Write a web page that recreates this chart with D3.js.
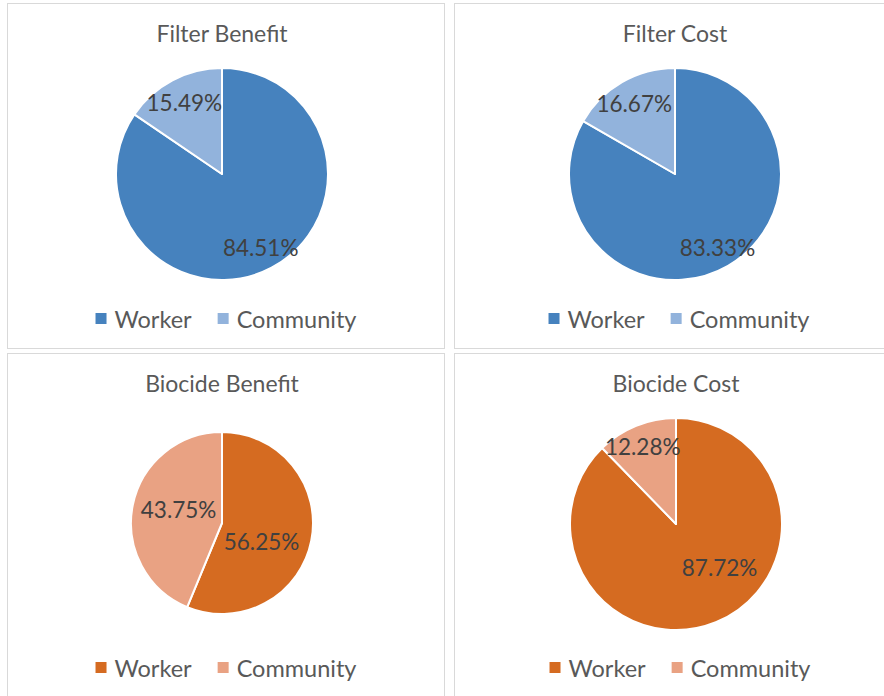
<!DOCTYPE html>
<html>
<head>
<meta charset="utf-8">
<script src="https://cdn.jsdelivr.net/npm/d3@7"></script>
<style>
  body { margin: 0; background: #fff; }
  svg { display: block; }
</style>
</head>
<body>
<div id="chart"></div>
<script>
// chart data
var titles = ["Filter Benefit", "Filter Cost", "Biocide Benefit", "Biocide Cost"];
var categories = ["Worker", "Community"];
var workerShare = [84.51, 83.33, 56.25, 87.72];
var communityShare = [15.49, 16.67, 43.75, 12.28];

// colours: blue for the filter panels, orange for the biocide panels
var blues = ["#4682be", "#92b3dc"];
var oranges = ["#d56b21", "#e9a283"];

var svgWidth = 884;
var svgHeight = 696;
var font = "Lato, 'Open Sans', sans-serif";

// panel boxes and where the pie sits inside each one
var panels = [
    { x: 7, y: 3, w: 437, h: 345, cx: 215, cy: 171, r: 106, colors: blues, legendY: 316,
      labelPos: [[0.78, 0], [0.76, 0]] },
    { x: 454, y: 3, w: 437, h: 345, cx: 221, cy: 171, r: 106, colors: blues, legendY: 316,
      labelPos: [[0.8, 0], [0.77, 0]] },
    { x: 7, y: 353, w: 437, h: 345, cx: 215, cy: 170, r: 91, colors: oranges, legendY: 315,
      labelPos: [[0.48, 14], [0.5, 6]] },
    { x: 454, y: 353, w: 437, h: 345, cx: 222, cy: 171, r: 106, colors: oranges, legendY: 315,
      labelPos: [[0.58, -23], [0.8, -1]] }
];

var svg = d3.select("#chart")
    .append("svg")
    .attr("width", svgWidth)
    .attr("height", svgHeight);

var pie = d3.pie()
    .sort(null)
    .value(function (d) { return d.value; });

panels.forEach(function (p, i) {
    var g = svg.append("g")
        .attr("transform", `translate(${p.x}, ${p.y})`);

    // panel frame
    g.append("rect")
        .attr("x", 0.5)
        .attr("y", 0.5)
        .attr("width", p.w)
        .attr("height", p.h)
        .attr("fill", "#fff")
        .attr("stroke", "#d9d9d9")
        .attr("stroke-width", 1);

    // title
    g.append("text")
        .attr("x", p.cx)
        .attr("y", 30)
        .attr("text-anchor", "middle")
        .attr("dominant-baseline", "central")
        .attr("font-family", font)
        .attr("font-size", "23px")
        .attr("fill", "#595959")
        .text(titles[i]);

    var data = [
        { name: categories[0], value: workerShare[i] },
        { name: categories[1], value: communityShare[i] }
    ];

    var arc = d3.arc()
        .innerRadius(0)
        .outerRadius(p.r);

    var pieGroup = g.append("g")
        .attr("transform", `translate(${p.cx}, ${p.cy})`);

    var arcs = pie(data);

    pieGroup.selectAll("path")
        .data(arcs)
        .enter()
        .append("path")
        .attr("d", arc)
        .attr("fill", function (d, j) { return p.colors[j]; })
        .attr("stroke", "#fff")
        .attr("stroke-width", 2)
        .attr("stroke-linejoin", "round");

    // percentage labels
    pieGroup.selectAll("text")
        .data(arcs)
        .enter()
        .append("text")
        .attr("transform", function (d, j) {
            var a = (d.startAngle + d.endAngle) / 2 + p.labelPos[j][1] * Math.PI / 180;
            var rr = p.r * p.labelPos[j][0];
            return `translate(${Math.sin(a) * rr}, ${-Math.cos(a) * rr})`;
        })
        .attr("text-anchor", "middle")
        .attr("dominant-baseline", "central")
        .attr("font-family", font)
        .attr("font-size", "22.5px")
        .attr("fill", "#404040")
        .text(function (d) { return d.data.value.toFixed(2) + "%"; });

    // legend
    var legend = g.append("g");
    var xPos = 0;
    categories.forEach(function (c, j) {
        var item = legend.append("g")
            .attr("transform", `translate(${xPos}, 0)`);
        item.append("rect")
            .attr("x", 0)
            .attr("y", -6)
            .attr("width", 11)
            .attr("height", 11)
            .attr("fill", p.colors[j]);
        var t = item.append("text")
            .attr("x", 19)
            .attr("y", 0)
            .attr("dominant-baseline", "central")
            .attr("font-family", font)
            .attr("font-size", "23.5px")
            .attr("fill", "#595959")
            .text(c);
        xPos += 19 + t.node().getComputedTextLength() + 26;
    });
    var legendWidth = xPos - 26;
    legend.attr("transform", `translate(${p.cx - legendWidth / 2 + 4}, ${p.legendY})`);
});
</script>
</body>
</html>
